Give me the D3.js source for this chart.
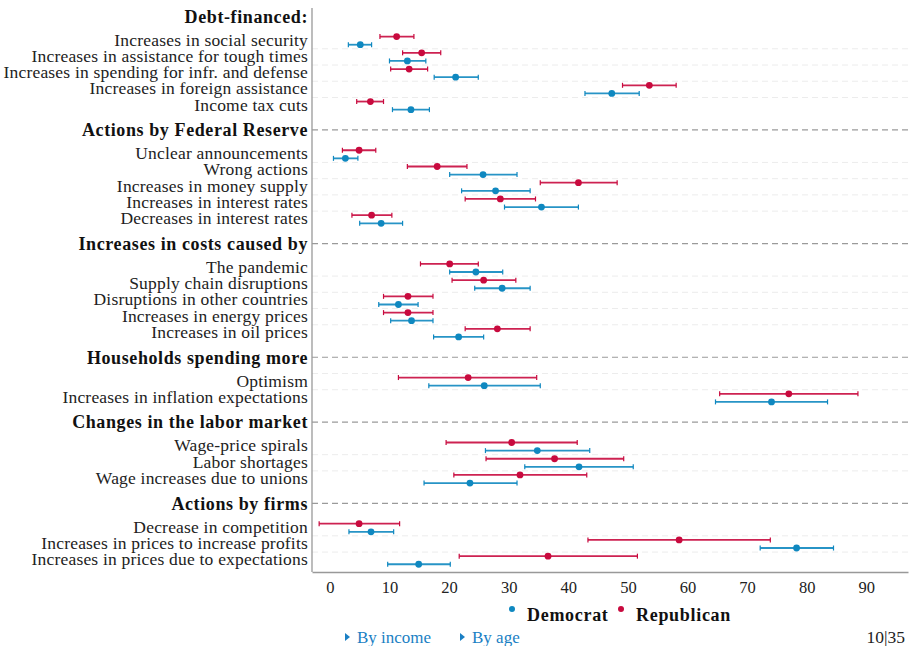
<!DOCTYPE html>
<html>
<head>
<meta charset="utf-8">
<script src="https://cdn.jsdelivr.net/npm/d3@7"></script>
<style>
  body { margin: 0; background: #fff; }
  svg { display: block; }
</style>
</head>
<body>
<div id="chart"></div>
<script>
// chart data
var groups = ["Debt-financed:", "Actions by Federal Reserve", "Increases in costs caused by",
              "Households spending more", "Changes in the labor market", "Actions by firms"];

var items = ["Increases in social security", "Increases in assistance for tough times",
             "Increases in spending for infr. and defense", "Increases in foreign assistance",
             "Income tax cuts",
             "Unclear announcements", "Wrong actions", "Increases in money supply",
             "Increases in interest rates", "Decreases in interest rates",
             "The pandemic", "Supply chain disruptions", "Disruptions in other countries",
             "Increases in energy prices", "Increases in oil prices",
             "Optimism", "Increases in inflation expectations",
             "Wage-price spirals", "Labor shortages", "Wage increases due to unions",
             "Decrease in competition", "Increases in prices to increase profits",
             "Increases in prices due to expectations"];

var itemGroup = [0,0,0,0,0, 1,1,1,1,1, 2,2,2,2,2, 3,3, 4,4,4, 5,5,5];

var demMean = [5.1, 13.0, 21.1, 47.3, 13.6,  2.6, 25.7, 27.8, 35.5, 8.6,
               24.5, 28.9, 11.5, 13.7, 21.6,  25.9, 74.1,  34.8, 41.8, 23.5,  6.9, 78.3, 14.9];
var demLow  = [3.1, 10.0, 17.5, 42.8, 10.5,  0.6, 20.1, 22.1, 29.3, 5.0,
               20.1, 24.3, 8.2, 10.2, 17.4,  16.6, 64.7,  26.1, 32.7, 15.8,  3.2, 72.2, 9.7];
var demHigh = [7.0, 16.1, 24.9, 51.9, 16.7,  4.7, 31.4, 33.6, 41.7, 12.2,
               29.0, 33.6, 14.8, 17.3, 25.8,  35.3, 83.5,  43.6, 50.9, 31.4,  10.7, 84.5, 20.2];

var repMean = [11.2, 15.4, 13.3, 53.6, 6.8,  4.9, 18.0, 41.7, 28.6, 7.0,
               20.1, 25.8, 13.1, 13.1, 28.1,  23.2, 77.0,  30.5, 37.7, 31.9,  4.9, 58.6, 36.6];
var repLow  = [8.4, 12.2, 10.2, 49.1, 4.5,  2.1, 13.0, 35.3, 22.7, 3.7,
               15.2, 20.5, 9.0, 9.0, 22.7,  11.5, 65.4,  19.5, 26.2, 20.8,  -1.8, 43.3, 21.7];
var repHigh = [14.1, 18.6, 16.4, 58.1, 9.0,  7.7, 23.0, 48.2, 34.5, 10.4,
               24.9, 31.2, 17.3, 17.3, 33.6,  34.7, 88.6,  41.5, 49.3, 43.1,  11.7, 73.9, 51.6];

var xTicks = [0, 10, 20, 30, 40, 50, 60, 70, 80, 90];

var seriesNames  = ["Democrat", "Republican"];
var seriesColors = ["#0f88c0", "#c80a3e"];

// layout
var width = 910, height = 646;
var plotLeft = 312, plotRight = 908, plotTop = 8, plotBottom = 572;

// positions in row units: header, then its items
var headerPos = [], itemPos = [];
var pos = 0;
groups.forEach(function(g, gi) {
  if (gi > 0) pos += 1.5;
  headerPos.push(pos);
  pos += 0.5;
  items.forEach(function(d, i) {
    if (itemGroup[i] === gi) { pos += 1; itemPos[i] = pos; }
  });
});

var x = d3.scaleLinear().domain([-3, 97]).range([plotLeft, plotRight]);
var y = d3.scaleLinear().domain([0, d3.max(itemPos)]).range([16.3, 560.2]);

var svg = d3.select("#chart").append("svg")
  .attr("width", width)
  .attr("height", height);

var serif = "'Liberation Serif', 'DejaVu Serif', serif";

// light gridlines between rows
var gridIdx = items.map(function(d, i) { return i; })
  .filter(function(i) { return i > 0 && itemGroup[i] === itemGroup[i - 1]; })
  .concat([items.indexOf("Optimism")]);

svg.append("g").selectAll("line")
  .data(gridIdx)
  .enter().append("line")
    .attr("x1", plotLeft)
    .attr("x2", plotRight)
    .attr("y1", function(i) { return y(itemPos[i] - 0.5); })
    .attr("y2", function(i) { return y(itemPos[i] - 0.5); })
    .attr("stroke", "#ececec")
    .attr("stroke-width", 1)
    .attr("stroke-dasharray", "6,4");

// group header lines (not the first one)
svg.append("g").selectAll("line")
  .data(headerPos.slice(1))
  .enter().append("line")
    .attr("x1", plotLeft)
    .attr("x2", plotRight)
    .attr("y1", function(d) { return y(d); })
    .attr("y2", function(d) { return y(d); })
    .attr("stroke", "#9a9a9a")
    .attr("stroke-width", 1.2)
    .attr("stroke-dasharray", "6,4");

// axes lines
svg.append("line")
  .attr("x1", plotLeft).attr("x2", plotLeft)
  .attr("y1", plotTop).attr("y2", plotBottom)
  .attr("stroke", "#999").attr("stroke-width", 1.3);

var xAxis = d3.axisBottom(x).tickValues(xTicks).tickSize(0).tickPadding(9);
var xAxisGroup = svg.append("g")
  .attr("transform", "translate(0," + plotBottom + ")")
  .call(xAxis);
xAxisGroup.select(".domain").attr("stroke", "#999").attr("stroke-width", 1.3);
xAxisGroup.selectAll("text")
  .attr("font-family", serif)
  .attr("font-size", 16.5)
  .attr("fill", "#222");

// headers and item labels
svg.append("g").selectAll("text")
  .data(groups)
  .enter().append("text")
    .attr("x", plotLeft - 4)
    .attr("y", function(d, i) { return y(headerPos[i]); })
    .attr("dy", "0.35em")
    .attr("text-anchor", "end")
    .attr("font-family", serif)
    .attr("font-weight", "bold")
    .attr("font-size", 18)
    .attr("letter-spacing", 0.6)
    .attr("fill", "#111")
    .text(function(d) { return d; });

svg.append("g").selectAll("text")
  .data(items)
  .enter().append("text")
    .attr("x", plotLeft - 4)
    .attr("y", function(d, i) { return y(itemPos[i]) - 1.2; })
    .attr("dy", "0.35em")
    .attr("text-anchor", "end")
    .attr("font-family", serif)
    .attr("font-size", 17.5)
    .attr("letter-spacing", 0.2)
    .attr("fill", "#222")
    .text(function(d) { return d; });

// error bars and points
function drawSeries(mean, low, high, offset, color) {
  var g = svg.append("g");
  var rows = items.map(function(d, i) { return i; });
  var cy = function(i) { return y(itemPos[i] + offset); };

  g.selectAll("line.ci")
    .data(rows)
    .enter().append("line")
      .attr("class", "ci")
      .attr("x1", function(i) { return x(low[i]); })
      .attr("x2", function(i) { return x(high[i]); })
      .attr("y1", cy).attr("y2", cy)
      .attr("stroke", color)
      .attr("stroke-width", 1.8)
      .attr("stroke-opacity", 0.9);

  [low, high].forEach(function(arr) {
    g.selectAll(null)
      .data(rows)
      .enter().append("line")
        .attr("x1", function(i) { return x(arr[i]); })
        .attr("x2", function(i) { return x(arr[i]); })
        .attr("y1", function(i) { return cy(i) - 2.5; })
        .attr("y2", function(i) { return cy(i) + 2.5; })
        .attr("stroke", color)
        .attr("stroke-width", 1.2);
  });

  g.selectAll("circle")
    .data(rows)
    .enter().append("circle")
      .attr("cx", function(i) { return x(mean[i]); })
      .attr("cy", cy)
      .attr("r", 3.4)
      .attr("fill", color);
}

drawSeries(repMean, repLow, repHigh, -0.25, seriesColors[1]);
drawSeries(demMean, demLow, demHigh, 0.25, seriesColors[0]);

// legend
var legend = svg.append("g");
var legendX = [512, 621];
seriesNames.forEach(function(name, i) {
  legend.append("circle")
    .attr("cx", legendX[i])
    .attr("cy", 609)
    .attr("r", 3)
    .attr("fill", seriesColors[i]);
  legend.append("text")
    .attr("x", legendX[i] + 15)
    .attr("y", 621)
    .attr("font-family", serif)
    .attr("font-weight", "bold")
    .attr("font-size", 18)
    .attr("letter-spacing", 0.7)
    .attr("fill", "#111")
    .text(name);
});

// footer links and page number
var links = [{ label: "By income", x: 345 }, { label: "By age", x: 460 }];
links.forEach(function(d) {
  svg.append("path")
    .attr("d", "M" + d.x + "," + 633 + "l5,4l-5,4z")
    .attr("fill", "#1a7fc4");
  svg.append("text")
    .attr("x", d.x + 12)
    .attr("y", 643)
    .attr("font-family", serif)
    .attr("font-size", 17)
    .attr("fill", "#1a7fc4")
    .text(d.label);
});

svg.append("text")
  .attr("x", 905)
  .attr("y", 643)
  .attr("text-anchor", "end")
  .attr("font-family", serif)
  .attr("font-size", 17.5)
  .attr("fill", "#222")
  .text("10|35");
</script>
</body>
</html>
